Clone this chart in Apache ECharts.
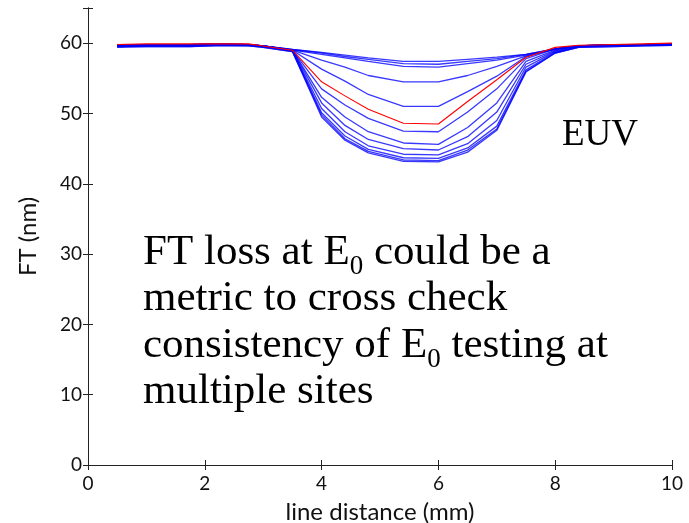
<!DOCTYPE html>
<html>
<head>
<meta charset="utf-8">
<script src="https://cdn.jsdelivr.net/npm/echarts@6/dist/echarts.min.js"></script>
<style>
  html, body { margin: 0; padding: 0; background: #fff; }
  #chart { width: 689px; height: 523px; }
</style>
</head>
<body>
<div id="chart"></div>
<script>
// Sampling positions along the line (mm)
const xs = [0.5, 1.0, 1.75, 2.2, 2.75, 3.0, 3.5, 4.0, 4.4, 4.8, 5.4, 6.0, 6.5, 7.0, 7.5, 8.0, 8.4, 9.0, 9.5, 10.0];

// Film thickness (nm) for each exposure dose, shallowest to deepest loss
const ft01 = [59.7, 59.8, 59.8, 59.9, 59.8, 59.6, 59.1, 58.7, 58.3, 57.9, 57.4, 57.4, 57.7, 58.0, 58.4, 59.2, 59.6, 59.8, 59.8, 59.9];
const ft02 = [59.7, 59.8, 59.8, 59.9, 59.8, 59.6, 59.1, 58.6, 58.1, 57.7, 57.1, 57.0, 57.4, 57.8, 58.4, 59.2, 59.6, 59.8, 59.8, 59.9];
const ft03 = [59.7, 59.8, 59.8, 59.9, 59.8, 59.6, 59.0, 58.4, 57.9, 57.4, 56.7, 56.6, 57.1, 57.6, 58.3, 59.2, 59.6, 59.8, 59.8, 59.9];
const ft04 = [59.7, 59.8, 59.8, 59.9, 59.8, 59.6, 59.0, 57.6, 56.6, 55.4, 54.5, 54.5, 55.4, 56.7, 58.2, 59.1, 59.6, 59.8, 59.8, 59.9];
const ft05 = [59.7, 59.8, 59.8, 59.9, 59.8, 59.6, 59.0, 56.3, 54.6, 52.7, 51.0, 51.0, 53.1, 55.3, 58.1, 59.2, 59.6, 59.8, 59.8, 59.9];
const ftE0 = [59.8, 59.9, 59.9, 59.9, 59.9, 59.6, 59.0, 54.5, 52.5, 50.6, 48.6, 48.5, 51.7, 54.8, 58.0, 59.4, 59.7, 59.8, 59.9, 60.0];
const ft07 = [59.7, 59.8, 59.8, 59.9, 59.8, 59.6, 59.0, 53.5, 51.2, 49.3, 47.5, 47.4, 50.2, 53.5, 57.8, 59.2, 59.6, 59.8, 59.8, 59.9];
const ft08 = [59.6, 59.7, 59.7, 59.8, 59.8, 59.6, 59.0, 52.3, 49.5, 47.4, 45.8, 45.6, 48.0, 51.5, 57.4, 59.0, 59.6, 59.7, 59.8, 59.9];
const ft09 = [59.6, 59.7, 59.7, 59.8, 59.8, 59.5, 59.0, 51.5, 48.3, 46.3, 45.0, 44.8, 46.7, 50.2, 57.0, 58.9, 59.6, 59.7, 59.8, 59.8];
const ft10 = [59.5, 59.6, 59.6, 59.8, 59.7, 59.5, 58.9, 50.7, 47.4, 45.4, 44.2, 44.1, 45.7, 49.0, 56.6, 58.8, 59.5, 59.6, 59.7, 59.8];
const ft11 = [59.5, 59.6, 59.6, 59.7, 59.7, 59.5, 58.9, 50.1, 46.8, 44.9, 43.7, 43.6, 45.1, 48.2, 56.2, 58.7, 59.5, 59.6, 59.7, 59.7];
const ft12 = [59.5, 59.5, 59.5, 59.7, 59.6, 59.4, 58.8, 49.8, 46.4, 44.6, 43.4, 43.3, 44.8, 47.8, 56.0, 58.6, 59.4, 59.5, 59.6, 59.7];
const ft13 = [59.4, 59.5, 59.5, 59.6, 59.6, 59.4, 58.8, 49.5, 46.2, 44.4, 43.2, 43.1, 44.5, 47.6, 55.9, 58.6, 59.4, 59.5, 59.6, 59.7];

const blueCurves = [ft01, ft02, ft03, ft04, ft05, ft07, ft08, ft09, ft10, ft11, ft12, ft13];

const xTicks = [0, 2, 4, 6, 8, 10];
const yTicks = [0, 10, 20, 30, 40, 50, 60];

const toPairs = arr => arr.map((v, i) => [xs[i], v]);

const axisColor = '#222';
const tickFont = { fontFamily: 'Lato', fontSize: 19, color: '#111' };
const nameFont = { fontFamily: 'Lato', fontSize: 24, color: '#111' };

const series = blueCurves.map(c => ({
  type: 'line',
  data: toPairs(c),
  symbol: 'none',
  lineStyle: { color: 'rgba(0,0,255,0.78)', width: 1.3 },
  silent: true,
  animation: false
}));
series.push({
  type: 'line',
  data: toPairs(ftE0),
  symbol: 'none',
  lineStyle: { color: '#ff0000', width: 1.1 },
  silent: true,
  animation: false,
  z: 5
});

const chart = echarts.init(document.getElementById('chart'), null, { renderer: 'canvas' });
chart.setOption({
  animation: false,
  backgroundColor: '#fff',
  grid: { left: 88, right: 17, top: 8, bottom: 58, containLabel: false, outerBoundsMode: 'none' },
  xAxis: [
    {
      type: 'value', min: 0, max: 10, interval: 2, position: 'bottom',
      name: 'line distance (mm)', nameLocation: 'middle', nameGap: 35,
      nameTextStyle: nameFont,
      axisLine: { lineStyle: { color: axisColor, width: 1 } },
      axisTick: { inside: true, length: 5, lineStyle: { color: axisColor } },
      axisLabel: Object.assign({ margin: 9, formatter: v => xTicks.includes(v) ? String(v) : '' }, tickFont),
      splitLine: { show: false }
    },
    {
      type: 'value', min: 0, max: 10, interval: 2, position: 'top',
      axisLine: { lineStyle: { color: axisColor, width: 1 } },
      axisTick: { inside: true, length: 5, lineStyle: { color: axisColor } },
      axisLabel: { show: false },
      splitLine: { show: false }
    }
  ],
  yAxis: [
    {
      type: 'value', min: 0, max: 65, interval: 10, position: 'left',
      name: 'FT (nm)', nameLocation: 'middle', nameGap: 48,
      nameTextStyle: nameFont,
      axisLine: { show: true, lineStyle: { color: axisColor, width: 1 } },
      axisTick: { show: true, inside: true, length: 5, lineStyle: { color: axisColor } },
      axisLabel: Object.assign({ margin: 6, formatter: v => yTicks.includes(v) ? String(v) : '' }, tickFont),
      splitLine: { show: false }
    },
    {
      type: 'value', min: 0, max: 65, interval: 10, position: 'right',
      axisLine: { show: true, lineStyle: { color: axisColor, width: 1 } },
      axisTick: { show: true, inside: true, length: 5, lineStyle: { color: axisColor } },
      axisLabel: { show: false },
      splitLine: { show: false }
    }
  ],
  graphic: [
    {
      type: 'text', left: 562, top: 117, silent: true,
      style: { text: 'EUV', font: '37px "Liberation Serif"', fill: '#000' }
    },
    {
      type: 'text', left: 143, top: 229, silent: true,
      style: {
        text: 'FT loss at E{s|0} could be a\nmetric to cross check\nconsistency of E{s|0} testing at\nmultiple sites',
        font: '43px "Liberation Serif"',
        fill: '#000',
        lineHeight: 46.5,
        rich: {
          s: { font: '27px "Liberation Serif"', fill: '#000', verticalAlign: 'top', lineHeight: 24, padding: [24, 0, 0, 0] }
        }
      }
    }
  ],
  series: series
});
</script>
</body>
</html>
